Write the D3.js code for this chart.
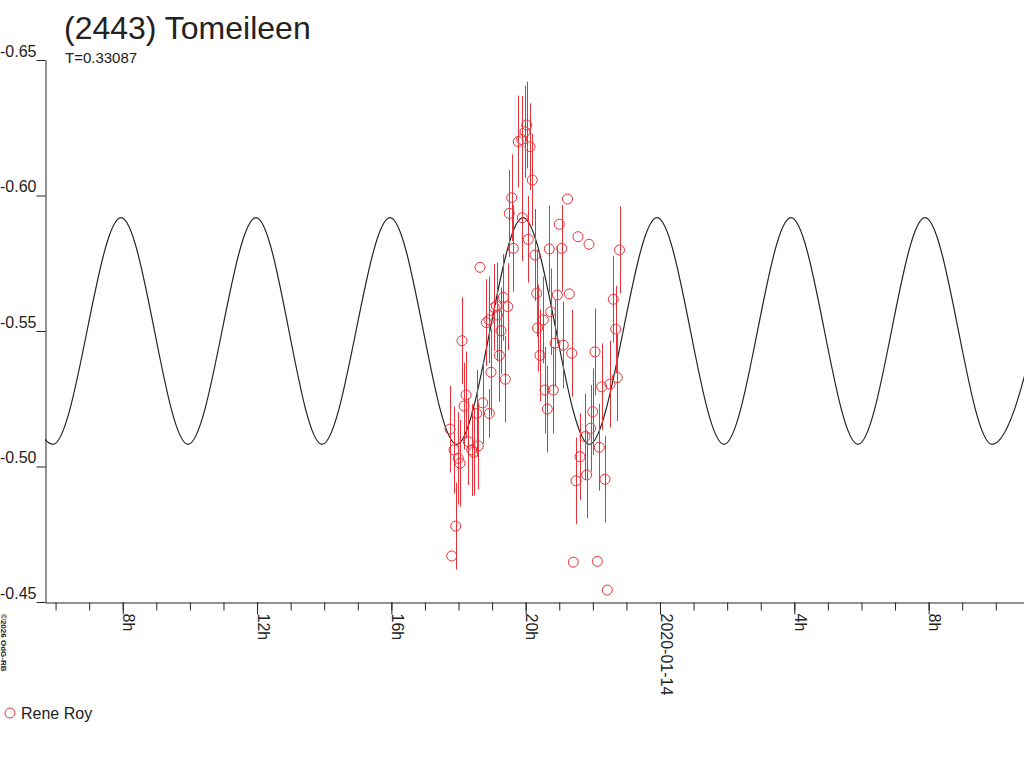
<!DOCTYPE html>
<html>
<head>
<meta charset="utf-8">
<script src="https://cdn.jsdelivr.net/npm/d3@7"></script>
<style>
  body { margin: 0; background: #fff; }
  svg { display: block; }
  text { font-family: "Liberation Sans", Arial, sans-serif; fill: #222; }
</style>
</head>
<body>
<div id="chart"></div>
<script>
// observations: hours after 2020-01-13 00:00 UT, magnitude, error (0 = no bar)
var obsHours = [17.746, 17.865, 17.993, 18.044, 17.916, 17.797, 18.104, 18.223, 18.163, 18.291,
  18.393, 18.589, 18.720, 18.541, 18.917, 18.640, 18.827, 19.066, 19.155, 19.334,
  19.465, 19.265, 19.214, 18.967, 19.393, 18.908, 19.512, 19.584, 19.631, 19.780,
  19.881, 19.980, 20.030, 20.129, 20.197, 19.899, 20.078, 20.278, 20.328, 20.352,
  20.426, 20.525, 20.575, 20.644, 20.703, 20.745, 20.822, 20.873, 20.942, 21.001,
  21.073, 21.120, 21.245, 21.299, 21.370, 21.558, 21.886, 21.418, 22.133, 22.431,
  21.499, 21.618, 21.767, 21.817, 21.936, 21.996, 22.064, 22.192, 22.362, 22.264,
  22.511, 22.728, 22.609, 22.681, 22.794, 18.446, 19.131];
var obsMag = [-0.5138, -0.5061, -0.5030, -0.5012, -0.4780, -0.4670, -0.5464, -0.5264, -0.5223, -0.5092,
  -0.5061, -0.5076, -0.5235, -0.5196, -0.5196, -0.5735, -0.5531, -0.5587, -0.5559, -0.5624,
  -0.5590, -0.5501, -0.5410, -0.5348, -0.5322, -0.5541, -0.5934, -0.5992, -0.5805, -0.6199,
  -0.6207, -0.6235, -0.6260, -0.6180, -0.6057, -0.5918, -0.5838, -0.5780, -0.5639, -0.5511,
  -0.5410, -0.5541, -0.5282, -0.5212, -0.5803, -0.5571, -0.5282, -0.5455, -0.5633, -0.5894,
  -0.5805, -0.5448, -0.5987, -0.5637, -0.5418, -0.5848, -0.5820, -0.4647, -0.4650, -0.4544,
  -0.4947, -0.5036, -0.5110, -0.4969, -0.5141, -0.5202, -0.5423, -0.5071, -0.4953, -0.5294,
  -0.5304, -0.5328, -0.5617, -0.5507, -0.5799, -0.5053, -0.5592];
var obsErr = [0.016, 0.016, 0.017, 0.016, 0.016, 0, 0.016, 0.016, 0.016, 0.016,
  0.017, 0.016, 0.015, 0.016, 0.009, 0, 0.016, 0.016, 0.017, 0.016,
  0.016, 0.016, 0.017, 0.016, 0.016, 0.016, 0.016, 0.016, 0.016, 0.017,
  0.016, 0.017, 0.016, 0.016, 0.017, 0.016, 0.016, 0.017, 0.016, 0.016,
  0.017, 0.016, 0.016, 0.016, 0.016, 0.016, 0.016, 0.016, 0.018, 0,
  0.016, 0.016, 0, 0, 0.016, 0, 0, 0, 0, 0,
  0.016, 0.016, 0.016, 0.016, 0.016, 0.016, 0.016, 0.016, 0.016, 0.016,
  0.016, 0.016, 0.016, 0.016, 0.016, 0.016, 0.016];

// fitted lightcurve, read at its maxima and minima
var fitHours = [3.93, 5.924, 7.949, 9.944, 11.969, 13.934, 15.960, 17.946, 19.920, 21.895,
  23.911, 25.906, 27.901, 29.896, 31.892, 33.887, 35.86];
var fitMag = [-0.5918, -0.5082, -0.5918, -0.5082, -0.5918, -0.5082, -0.5918, -0.5082, -0.5918, -0.5082,
  -0.5918, -0.5082, -0.5918, -0.5082, -0.5918, -0.5082, -0.5918];

var yTicks = [-0.65, -0.60, -0.55, -0.50, -0.45];
var majorLabels = ["8h", "12h", "16h", "20h", "2020-01-14", "4h", "8h"];

var title = "(2443) Tomeileen";
var subtitle = "T=0.33087";
var observer = "Rene Roy";

var red = "#e8323a";
var t0 = Date.UTC(2020, 0, 13);
function toDate(h){ return new Date(t0 + h * 3600e3); }

var svg = d3.select("#chart").append("svg")
    .attr("width", 1024)
    .attr("height", 768);

var xScale = d3.scaleUtc()
    .domain([toDate(5.685), toDate(34.84)])
    .range([45, 1024]);
var yScale = d3.scaleLinear()
    .domain([-0.65, -0.45])
    .range([60, 602]);

svg.append("defs").append("clipPath").attr("id", "plotclip")
  .append("rect").attr("x", 45).attr("y", 0).attr("width", 979).attr("height", 602);

// fitted curve
var fitData = fitHours.map(function(h, i){ return [toDate(h), fitMag[i]]; });
var line = d3.line()
    .x(function(d){ return xScale(d[0]); })
    .y(function(d){ return yScale(d[1]); })
    .curve(d3.curveMonotoneX);
svg.append("path").datum(fitData)
    .attr("clip-path", "url(#plotclip)")
    .attr("d", line)
    .attr("fill", "none")
    .attr("stroke", "#222")
    .attr("stroke-width", 1.2);

// observations
var obs = obsHours.map(function(h, i){ return {t: toDate(h), m: obsMag[i], e: obsErr[i]}; });
svg.selectAll(".err").data(obs.filter(function(d){ return d.e > 0; })).enter().append("line")
    .attr("class", "err")
    .attr("x1", function(d){ return Math.round(xScale(d.t)) + 0.5; })
    .attr("x2", function(d){ return Math.round(xScale(d.t)) + 0.5; })
    .attr("y1", function(d){ return yScale(d.m - d.e); })
    .attr("y2", function(d){ return yScale(d.m + d.e); })
    .attr("stroke", red)
    .attr("stroke-width", 1);
svg.selectAll(".obs").data(obs).enter().append("circle")
    .attr("class", "obs")
    .attr("cx", function(d){ return xScale(d.t); })
    .attr("cy", function(d){ return yScale(d.m); })
    .attr("r", 5)
    .attr("fill", "none")
    .attr("stroke", red)
    .attr("stroke-width", 1);

// y axis
var yAxis = d3.axisLeft(yScale).tickValues(yTicks).tickSize(9).tickSizeOuter(0)
    .tickFormat(function(d){ return d.toFixed(2); });
var gy = svg.append("g").attr("transform", "translate(45.5,0)").call(yAxis);
gy.selectAll("path, line").attr("stroke", "#222");
gy.selectAll("text")
    .attr("x", -9).attr("dy", "-0.25em")
    .style("font-size", "16px")
    .style("font-family", "Liberation Sans, Arial, sans-serif")
    .attr("fill", "#222");

// x axis: hourly minor ticks, 4-hourly labelled ticks
var xMinor = d3.axisBottom(xScale).ticks(d3.utcHour.every(1)).tickSize(8).tickSizeOuter(0)
    .tickFormat("");
var gxm = svg.append("g").attr("transform", "translate(0,602.5)").call(xMinor);
gxm.selectAll("path, line").attr("stroke", "#222");

var majorTicks = xScale.ticks(d3.utcHour.every(4));
var xMajor = d3.axisBottom(xScale).tickValues(majorTicks).tickSize(12).tickSizeOuter(0)
    .tickFormat(function(d, i){ return majorLabels[i]; });
var gx = svg.append("g").attr("transform", "translate(0,602.5)").call(xMajor);
gx.select(".domain").remove();
gx.selectAll("line").attr("stroke", "#222");
gx.selectAll("text")
    .attr("y", 0).attr("dy", 0)
    .attr("transform", "translate(0,11) rotate(90)")
    .attr("text-anchor", "start")
    .style("font-size", "16px")
    .style("font-family", "Liberation Sans, Arial, sans-serif")
    .attr("fill", "#222");

// titles
svg.append("text").attr("x", 64).attr("y", 39).text(title)
    .style("font-size", "32px");
svg.append("text").attr("x", 65).attr("y", 63).text(subtitle)
    .style("font-size", "15px");

// copyright
svg.append("text")
    .attr("transform", "translate(1,614) rotate(90)")
    .style("font-size", "8px").style("font-weight", "bold")
    .text("\u00a92026 OdG-RB");

// legend
svg.append("circle").attr("cx", 10).attr("cy", 713).attr("r", 5)
    .attr("fill", "none").attr("stroke", red);
svg.append("text").attr("x", 21).attr("y", 719).text(observer)
    .style("font-size", "16px");
</script>
</body>
</html>
